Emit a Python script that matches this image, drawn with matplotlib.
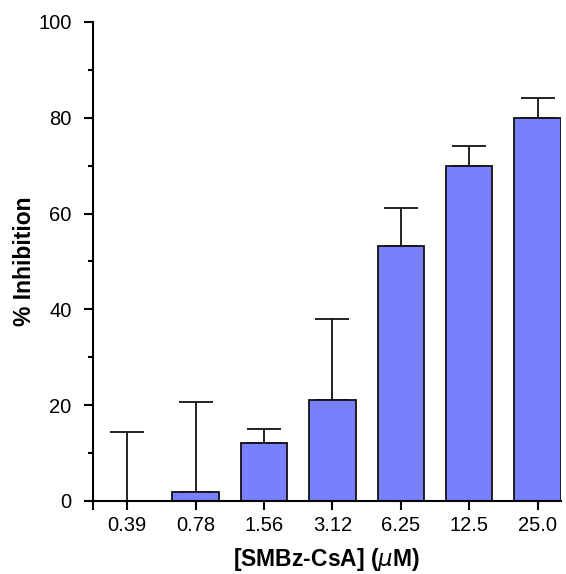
import numpy as np
import matplotlib.pyplot as plt

plt.rcParams['font.family'] = ['Liberation Sans', 'DejaVu Sans']

conc = ['0.39', '0.78', '1.56', '3.12', '6.25', '12.5', '25.0']
inhib = [0.0, 1.9, 12.1, 21.1, 53.2, 70.0, 80.0]
err = [14.4, 18.8, 2.9, 16.9, 8.0, 4.1, 4.1]

fig = plt.figure(figsize=(5.66, 5.74), dpi=100)
ax = fig.add_axes([0.1643, 0.1272, 0.8267, 0.8345])

x = np.arange(len(conc))
ax.bar(x, inhib, width=0.68, color='#7880ff', edgecolor='#111111', linewidth=1.3, zorder=2)
ax.errorbar(x, inhib, yerr=[np.zeros(len(err)), err], fmt='none', ecolor='#111111',
            elinewidth=1.3, capsize=12, capthick=1.3, zorder=1)

ax.set_xlim(-0.5, 6.34)
ax.set_ylim(0, 100)
ax.set_xticks(list(x) + [-0.5])
ax.set_xticklabels(conc + [''])
ax.set_yticks([0, 20, 40, 60, 80, 100])
ax.set_yticks([10, 30, 50, 70, 90], minor=True)

for s in ['top', 'right']:
    ax.spines[s].set_visible(False)
for s in ['left', 'bottom']:
    ax.spines[s].set_linewidth(1.5)

ax.tick_params(axis='both', which='major', length=6.5, width=1.5, labelsize=14.5)
ax.tick_params(axis='x', which='major', pad=4)
ax.tick_params(axis='y', which='major', pad=9)
ax.tick_params(axis='y', which='minor', length=3.6, width=1.5)

ax.set_ylabel('% Inhibition', fontsize=16.5, fontweight='bold')
ax.set_xlabel(r'[SMBz-CsA] ($\mathit{\mu}$M)', fontsize=16.5, fontweight='bold')
ax.yaxis.set_label_coords(-0.122, 0.5)
ax.xaxis.set_label_coords(0.5, -0.094)

fig.savefig('out.png', dpi=100)
